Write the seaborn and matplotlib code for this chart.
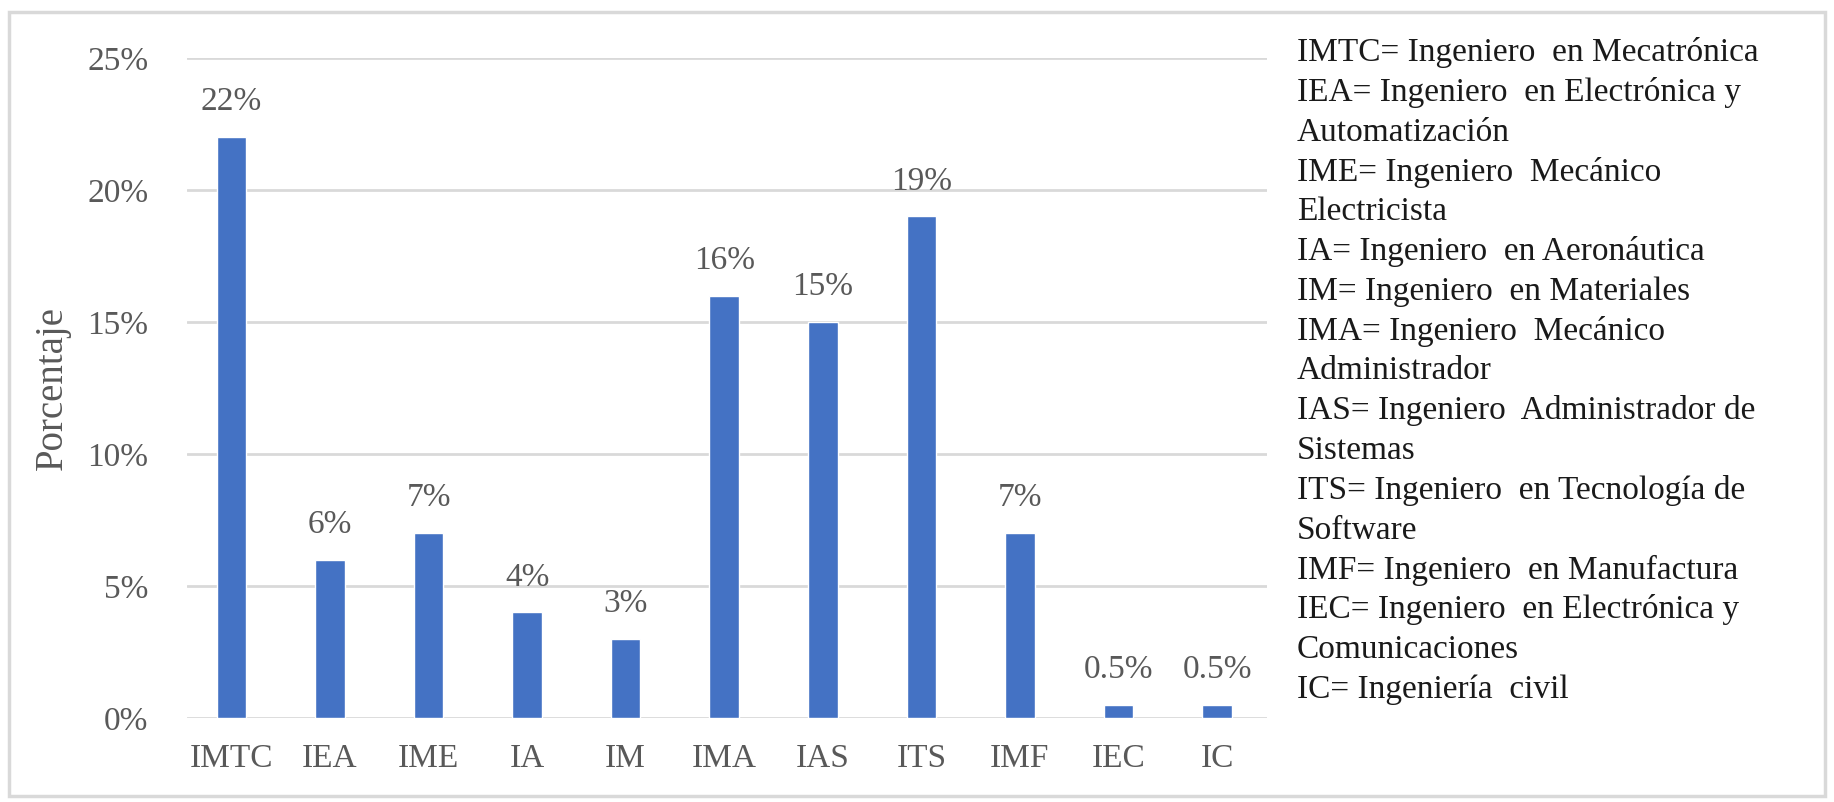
import matplotlib
matplotlib.use("Agg")
import matplotlib.pyplot as plt
import matplotlib.ticker as mtick
from matplotlib.patches import Rectangle
import seaborn as sns

carreras = ["IMTC", "IEA", "IME", "IA", "IM", "IMA", "IAS", "ITS", "IMF", "IEC", "IC"]
porcentajes = [0.22, 0.06, 0.07, 0.04, 0.03, 0.16, 0.15, 0.19, 0.07, 0.005, 0.005]
etiquetas = ["22%", "6%", "7%", "4%", "3%", "16%", "15%", "19%", "7%", "0.5%", "0.5%"]
leyenda = [
    "IMTC= Ingeniero  en Mecatrónica",
    "IEA= Ingeniero  en Electrónica y",
    "Automatización",
    "IME= Ingeniero  Mecánico",
    "Electricista",
    "IA= Ingeniero  en Aeronáutica",
    "IM= Ingeniero  en Materiales",
    "IMA= Ingeniero  Mecánico",
    "Administrador",
    "IAS= Ingeniero  Administrador de",
    "Sistemas",
    "ITS= Ingeniero  en Tecnología de",
    "Software",
    "IMF= Ingeniero  en Manufactura",
    "IEC= Ingeniero  en Electrónica y",
    "Comunicaciones",
    "IC= Ingeniería  civil",
]

sns.set_style("white")
plt.rcParams["font.family"] = ["Liberation Serif", "DejaVu Serif"]

gris = "#595959"
fig = plt.figure(figsize=(18.34, 8.02), dpi=100)
ax = fig.add_axes([0.102, 0.1047, 0.589, 0.823])

sns.barplot(x=carreras, y=porcentajes, color="#4472C4", saturation=1, width=0.3, ax=ax)
ax.set_ylim(0, 0.25)
ax.set_xlim(-0.45, 10.51)
ax.yaxis.set_major_locator(mtick.MultipleLocator(0.05))
ax.yaxis.set_major_formatter(mtick.PercentFormatter(1.0, decimals=0))
ax.grid(axis="y", color="#D9D9D9", linewidth=2)
ax.set_axisbelow(True)
sns.despine(ax=ax, left=True, bottom=True)
ax.tick_params(axis="both", length=0, labelsize=24, labelcolor=gris)
ax.tick_params(axis="x", pad=18)
ax.tick_params(axis="y", pad=28)
ax.set_ylabel("Porcentaje", fontsize=28, color=gris, labelpad=12)

for i, (v, t) in enumerate(zip(porcentajes, etiquetas)):
    ax.text(i, v + 0.0075, t, ha="center", va="bottom", fontsize=24, color=gris)

y0 = 0.934
for k, linea in enumerate(leyenda):
    fig.text(0.707, y0 - k * 0.0496, linea, ha="left", va="center", fontsize=24, color="#1a1a1a")

fig.patches.append(Rectangle((0.005, 0.008), 0.99, 0.977, transform=fig.transFigure,
                             fill=False, edgecolor="#D9D9D9", linewidth=2.5))

plt.savefig("out.png", dpi=100)
plt.close()
